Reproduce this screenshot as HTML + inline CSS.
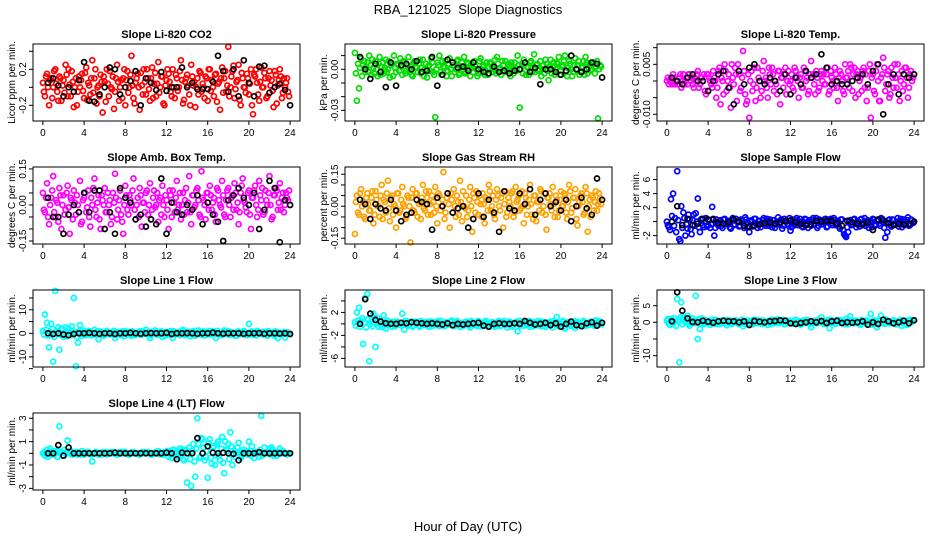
<!DOCTYPE html>
<html><head><meta charset="utf-8"><style>
body{margin:0;background:#fff;}
svg{display:block;font-family:"Liberation Sans",sans-serif;}
</style></head><body>
<svg id="chart" width="936" height="540" viewBox="0 0 936 540">
<rect width="936" height="540" fill="#fff"/>
<text x="468" y="14" text-anchor="middle" font-size="13" xml:space="preserve">RBA_121025  Slope Diagnostics</text>
<text x="468" y="531" text-anchor="middle" font-size="13">Hour of Day (UTC)</text>
<g id="panels"></g>
</svg>
<script>
const xTicks=[0,4,8,12,16,20,24];
const c1=[0.05,-0.1,0.15,-0.2,0.1,0.0,0.2,-0.05,0.12,-0.15,0.08,0.25,-0.1,0.03,0.18,-0.22,0.1,-0.05,0.0,0.15,-0.12,0.22,0.05,-0.08,0.3,0.1,-0.18,0.02,0.14,-0.28,0.06,0.2,-0.1,0.0,0.12,-0.05,0.25,-0.15,0.08,0.1,-0.2,0.18,0.0,0.35,-0.12,0.05,0.15,-0.25,0.02,0.2,-0.08,0.1,-0.15,0.22,0.04,-0.1,0.28,0.0,0.12,-0.2,0.08,0.15,-0.05,0.2,-0.12,0.1,0.0,0.3,-0.18,0.06,0.14,-0.08,0.25,0.02,-0.22,0.1,0.18,-0.05,0.0,0.12,-0.15,0.2,0.08,-0.1,0.15,0.04,-0.25,0.22,0.1,-0.05,0.45,0.0,0.18,-0.12,0.06,0.25,-0.2,0.1,0.0,0.15,-0.08,0.2,-0.3,0.12,0.05,-0.15,0.22,0.0,0.1,-0.1,0.18,0.08,-0.22,0.14,0.02,0.2,-0.12,0.1,0.05,-0.05];
const d1=[-0.05,0.12,0.0,0.08,-0.12,0.18,0.04,-0.15,0.1,0.02,-0.06,0.14,0.2,-0.1,0.06,0.0,-0.2,0.12,0.08,-0.04,0.16,-0.14,0.02,0.1,-0.06,0.2,0.0,-0.1,0.06,0.12,-0.16,0.04,0.18,-0.02,-0.24,0.1,0.06,0.0,-0.12,0.2,0.08,-0.06,0.14,0.02,-0.18,0.1,0.0,0.16,-0.08,0.06,0.2,-0.02,0.1,-0.12,0.16,0.04,-0.06,0.12,-0.18,0.02,0.2,0.06,-0.1,0.0,0.14,-0.04,0.18,0.08,-0.14,0.1,0.02,-0.2,0.12,0.06,0.0,-0.08,0.16,0.04,-0.12,0.1,0.2,-0.04,0.0,0.14,-0.16,0.06,0.1,-0.06,0.18,0.02,-0.1,0.12,0.24,-0.02,0.08,-0.14,0.16,0.0,-0.06,0.1,0.04,-0.2,0.14,0.2,-0.08,0.06,0.0,0.16,-0.12,0.1,0.02,-0.04,0.18,-0.18,0.08,0.12,-0.06,0.0,0.1,-0.1];
const b1=[0.05,0.1,0.02,-0.1,0.0,-0.05,0.08,0.28,-0.15,-0.16,-0.08,0.0,0.22,0.2,-0.08,0.0,0.07,0.18,-0.2,0.1,0.05,-0.03,0.17,-0.04,0.0,0.0,0.22,0.0,0.05,-0.02,-0.02,-0.02,0.06,0.35,0.18,-0.05,0.2,-0.1,0.3,0.05,-0.1,0.23,0.24,-0.06,0.0,0.04,-0.03,-0.2];
const c2=[0.012,-0.023,-0.014,0.008,0.003,-0.002,0.005,0.010,-0.004,0.001,0.006,-0.005,0.009,0.002,-0.003,0.007,0.000,-0.006,0.004,0.010,-0.002,0.003,0.008,-0.004,0.005,-0.001,0.009,0.002,-0.005,0.006,0.001,0.004,-0.003,0.007,0.000,-0.006,0.003,0.008,-0.002,-0.035,0.005,0.010,-0.004,0.002,0.006,-0.001,0.008,-0.005,0.003,0.000,0.007,-0.003,0.005,0.009,-0.002,0.004,-0.005,0.001,0.006,0.000,-0.003,0.008,0.002,-0.004,0.005,0.001,0.004,-0.002,0.007,0.009,0.000,-0.004,0.003,0.006,-0.001,0.002,0.005,-0.003,0.001,0.010,-0.028,0.004,0.007,-0.004,0.001,0.005,-0.002,0.011,0.003,-0.001,0.006,0.000,-0.003,0.004,-0.008,0.007,0.002,-0.004,0.005,0.009,-0.001,0.003,0.010,-0.005,0.006,0.000,-0.002,0.008,0.003,-0.004,0.001,0.006,0.009,-0.003,0.004,0.000,0.005,0.002,-0.036,0.003];
const d2=[-0.003,0.004,0.001,-0.005,0.006,0.002,-0.002,0.003,0.007,-0.003,0.0,0.004,-0.004,0.005,0.001,-0.002,0.006,0.003,-0.005,0.001,0.004,-0.001,0.002,0.006,-0.003,0.003,0.0,-0.004,0.005,0.002,-0.002,0.007,0.001,-0.005,0.004,0.002,-0.001,0.005,-0.004,0.0,0.003,-0.002,0.006,0.001,-0.005,0.004,0.0,0.003,-0.002,0.006,-0.004,0.002,0.0,-0.003,0.005,0.001,0.004,-0.002,0.002,-0.005,0.006,0.0,0.003,-0.001,-0.004,0.005,0.002,0.0,-0.003,0.004,0.001,0.006,-0.002,0.0,0.004,-0.005,0.002,0.005,-0.001,0.003,0.0,-0.003,0.005,0.002,-0.004,0.006,0.001,-0.002,0.004,0.0,-0.005,0.003,0.007,-0.001,0.002,-0.003,0.005,0.0,0.004,-0.004,0.002,0.006,-0.002,0.001,0.004,-0.005,0.003,0.0,0.006,-0.002,0.002,-0.004,0.005,0.001,-0.001,0.004,-0.003,0.006,0.0,0.002];
const b2=[0.009,0.0,-0.007,0.004,-0.002,-0.013,0.005,-0.012,0.003,0.004,0.0,0.006,-0.002,-0.001,0.009,-0.012,-0.004,0.007,0.005,0.001,0.002,-0.001,0.005,0.0,-0.002,-0.003,0.002,-0.002,-0.001,-0.003,-0.001,0.0,0.005,-0.002,0.001,-0.011,0.0,0.0,-0.002,-0.004,-0.001,0.010,0.0,-0.002,0.0,0.005,0.004,-0.006];
const c3=[0.0,-0.001,0.001,0.002,-0.001,0.0,0.001,-0.002,0.002,0.0,-0.001,0.002,0.001,-0.002,0.0,0.003,-0.001,0.001,0.002,-0.004,0.002,0.0,-0.002,0.001,-0.005,0.003,-0.007,0.0,0.005,-0.003,0.002,-0.008,0.001,0.004,-0.006,0.002,-0.002,0.009,-0.004,-0.006,-0.011,0.003,-0.001,-0.006,0.004,0.0,-0.003,0.006,0.001,-0.005,0.002,0.004,-0.003,-0.001,0.003,-0.007,0.001,0.002,-0.004,0.003,0.0,-0.002,0.004,0.001,-0.005,0.002,-0.002,0.003,0.001,-0.003,0.006,0.002,-0.004,0.001,-0.002,0.003,0.002,-0.001,0.004,-0.003,0.001,-0.002,0.002,-0.006,0.003,0.0,-0.004,0.001,0.003,0.005,-0.003,0.004,0.002,-0.004,0.001,0.003,-0.002,-0.006,0.003,-0.011,0.002,-0.004,0.005,-0.006,0.001,0.007,-0.003,0.002,-0.005,0.004,-0.002,0.001,0.005,-0.006,0.003,-0.001,0.004,-0.005,0.002,0.0];
const d3=[0.001,0.0,-0.001,0.001,0.0,-0.001,0.002,0.0,-0.001,0.001,0.002,0.0,-0.001,0.001,0.002,-0.002,0.001,0.0,-0.003,0.002,0.001,-0.001,0.003,0.0,-0.002,0.004,0.001,-0.004,0.003,0.0,-0.002,0.005,-0.001,0.002,0.005,-0.003,0.001,0.003,-0.007,0.002,0.0,-0.003,0.004,-0.002,0.001,-0.005,0.003,0.0,-0.002,0.004,-0.001,0.002,0.0,-0.004,0.003,0.001,-0.002,0.004,0.0,-0.001,0.002,-0.003,0.003,0.0,0.001,-0.002,0.004,0.0,-0.004,0.002,0.001,-0.001,0.003,-0.003,0.002,0.0,-0.001,0.002,-0.004,0.003,0.0,0.004,-0.002,0.001,0.002,-0.003,0.005,0.001,-0.002,0.004,0.002,-0.005,0.003,0.0,-0.003,0.004,0.002,-0.002,0.005,0.001,-0.003,0.003,0.0,-0.006,0.002,0.004,-0.001,0.003,-0.004,0.001,0.005,-0.002,0.002,0.0,-0.003,0.004,0.001,-0.002,0.003,0.001];
const b3=[0.001,0.0,-0.001,0.001,0.002,0.0,0.0,-0.003,0.0,0.002,0.003,-0.002,-0.007,0.003,-0.001,0.004,0.005,0.0,-0.001,0.001,0.0,-0.003,0.002,-0.004,0.001,-0.001,0.003,0.001,0.002,0.008,0.004,-0.001,0.0,-0.001,-0.001,0.0,0.001,0.002,-0.001,0.003,0.005,-0.010,-0.001,0.002,-0.004,0.002,0.001,0.002];
const c4=[0.05,-0.03,0.09,-0.08,0.03,0.12,-0.05,0.01,0.07,-0.1,0.04,-0.02,0.08,-0.12,0.02,0.06,-0.04,0.0,0.1,-0.07,0.03,-0.03,0.06,-0.09,0.0,0.11,-0.05,0.04,-0.1,0.02,0.07,-0.03,0.0,-0.08,0.05,0.13,-0.06,0.02,-0.04,-0.12,0.08,-0.02,0.04,0.0,0.11,-0.06,0.03,0.07,-0.09,0.01,0.05,-0.04,0.09,-0.02,0.06,0.0,-0.07,0.03,0.08,-0.05,0.02,-0.1,0.04,0.06,-0.03,0.1,0.0,-0.06,0.05,0.02,-0.03,0.12,-0.08,0.04,0.0,0.07,-0.04,0.14,0.02,-0.06,0.05,0.08,-0.02,0.03,-0.07,0.06,0.0,0.1,-0.04,0.02,0.07,-0.05,0.04,0.09,-0.02,-0.08,0.05,0.11,0.01,-0.03,0.06,-0.1,0.03,0.08,-0.05,0.1,0.02,-0.04,0.06,0.0,0.12,-0.06,0.04,0.07,-0.02,0.09,0.03,-0.03,0.05,0.02];
const d4=[-0.02,0.03,-0.05,0.0,0.06,-0.03,0.02,-0.07,0.04,0.0,-0.04,0.05,-0.01,0.03,-0.06,0.01,0.04,-0.03,-0.08,0.02,0.05,-0.01,-0.05,0.03,0.07,-0.02,0.01,-0.06,0.04,0.0,-0.03,0.05,0.02,-0.05,0.01,0.03,-0.02,0.06,-0.07,0.0,0.04,-0.04,0.02,0.06,-0.02,0.0,-0.05,0.04,0.01,-0.03,0.06,0.0,-0.06,0.03,-0.01,0.05,0.02,-0.04,0.0,0.04,-0.02,0.06,-0.05,0.01,0.03,-0.02,0.05,0.0,-0.04,0.07,0.01,-0.03,0.04,-0.01,0.06,0.02,-0.05,0.03,0.0,0.05,-0.02,0.04,0.01,-0.04,0.07,0.02,-0.01,0.04,-0.05,0.06,0.0,0.03,-0.02,0.05,0.01,-0.03,0.08,0.02,-0.01,0.05,-0.04,0.03,0.06,0.0,-0.02,0.04,0.07,-0.03,0.02,0.05,0.0,-0.05,0.04,0.06,0.01,-0.02,0.05,0.0,0.03,0.06];
const b4=[0.03,-0.05,-0.05,-0.12,-0.04,0.0,-0.03,0.05,-0.03,0.06,0.06,-0.1,-0.03,-0.12,0.07,0.03,0.01,-0.06,-0.04,-0.09,-0.06,-0.08,0.11,-0.12,0.01,-0.03,-0.04,0.0,-0.02,0.04,-0.08,0.01,-0.04,-0.07,-0.15,0.02,0.04,0.07,0.03,0.0,0.05,-0.1,-0.02,0.1,0.07,-0.155,0.02,0.0];
const c5=[-0.13,0.05,-0.04,0.08,0.02,-0.06,0.06,-0.02,0.04,-0.08,0.07,0.0,-0.05,0.1,0.03,-0.03,0.12,-0.07,0.05,0.01,-0.1,0.06,-0.02,0.09,0.0,-0.05,0.04,-0.17,0.08,-0.03,0.06,0.01,-0.06,0.1,-0.02,0.04,0.07,-0.04,0.02,0.09,-0.08,0.05,0.0,0.16,-0.03,0.06,-0.1,0.03,0.08,-0.05,0.02,0.12,-0.07,0.0,0.05,-0.02,0.09,-0.12,0.04,0.07,-0.04,0.01,0.06,-0.08,0.03,0.1,-0.02,0.05,-0.06,0.08,0.0,0.04,-0.1,0.07,-0.03,0.02,0.06,-0.05,0.09,0.03,-0.02,0.07,-0.08,0.04,0.0,0.1,-0.04,0.05,-0.07,0.02,0.08,-0.03,0.06,-0.11,0.04,0.01,0.09,-0.05,0.03,-0.02,0.07,0.0,0.05,-0.06,0.1,-0.03,0.04,0.08,-0.09,0.02,0.06,-0.04,0.09,-0.12,0.03,0.05,-0.02,0.07,0.01,0.04];
const d5=[0.02,-0.03,0.06,0.0,-0.05,0.04,0.01,-0.02,0.07,-0.04,0.03,0.0,0.05,-0.06,0.02,0.06,-0.01,0.04,-0.04,0.0,0.06,-0.03,0.03,0.01,-0.06,0.05,0.0,0.04,-0.02,0.06,-0.05,0.02,0.04,-0.01,0.07,-0.04,0.01,0.05,-0.03,0.0,0.06,-0.02,0.03,-0.06,0.04,0.01,0.06,-0.03,0.0,0.05,-0.04,0.02,0.07,-0.01,-0.05,0.03,0.0,0.06,-0.03,0.02,0.05,-0.05,0.01,0.04,-0.02,0.07,0.0,-0.04,0.03,0.05,-0.02,0.06,0.01,-0.05,0.04,0.0,0.07,-0.03,0.02,0.05,-0.01,0.0,0.06,-0.04,0.03,0.01,-0.06,0.05,0.02,-0.02,0.07,0.0,-0.04,0.04,0.06,-0.02,0.01,0.05,-0.05,0.03,0.0,0.06,-0.03,0.02,0.07,-0.01,0.04,-0.06,0.0,0.05,0.02,-0.03,0.06,0.0,-0.05,0.04,0.02,-0.02,0.06,0.01];
const b5=[0.03,0.01,-0.06,0.01,-0.01,-0.02,0.03,-0.02,-0.07,-0.04,-0.03,0.03,0.02,0.01,-0.11,0.04,0.0,0.06,-0.03,-0.01,0.0,-0.1,-0.06,0.06,-0.05,0.03,-0.03,-0.12,0.07,-0.01,-0.02,0.06,0.01,0.08,-0.04,0.03,0.06,0.0,0.02,-0.02,0.03,-0.07,0.0,0.04,-0.01,-0.04,0.13,0.03];
const c6=[0.0,-0.8,3.2,4.0,0.5,7.2,-2.5,2.2,1.3,-2.0,-1.0,0.3,-1.8,1.0,1.2,3.3,-1.5,0.4,-0.8,0.5,-0.5,-0.9,2.1,-2.0,0.3,-0.6,0.2,-0.9,0.4,-0.3,0.1,-1.0,0.5,-0.4,0.0,-0.7,0.3,-0.2,0.6,-0.8,-1.5,0.2,-0.5,0.4,-0.9,0.1,-0.3,0.5,-0.6,0.0,0.3,-0.8,0.2,-0.4,0.6,-0.2,-1.0,0.4,0.0,-0.6,-1.3,0.3,-0.5,0.5,-0.2,0.0,-0.8,0.4,-0.3,0.2,-0.6,0.5,0.1,-0.9,0.3,-0.4,0.0,0.4,-0.7,0.2,-0.2,0.5,-0.5,0.1,-1.0,0.3,-1.8,-2.2,-1.5,0.2,-0.4,0.4,-0.8,0.0,0.3,-0.5,0.5,-0.2,-0.9,0.1,0.4,-0.6,0.2,-0.3,0.5,-0.1,-2.3,-1.5,0.3,-0.7,0.2,-0.4,0.5,0.0,-0.8,0.3,-0.3,0.6,-0.5,0.2];
const d6=[-0.5,-1.2,0.8,-0.6,-1.5,0.2,-2.8,-0.9,0.5,-0.4,1.0,-1.1,0.2,-0.6,0.0,-0.8,0.3,-0.5,-0.1,-0.7,0.2,-0.4,0.4,-0.9,-0.2,0.1,-0.6,0.3,-0.3,0.0,-0.8,0.2,-0.5,0.4,-0.1,-0.6,0.1,-0.9,0.3,-0.2,0.0,-0.7,0.4,-0.4,0.1,-0.8,0.2,-0.3,0.4,-0.6,-0.1,0.2,-0.9,0.0,-0.4,0.3,-0.6,0.1,-0.3,0.5,-0.8,0.0,0.2,-0.5,0.4,-0.7,-0.1,0.3,-0.9,0.0,0.2,-0.4,0.5,-0.6,0.1,-0.3,0.3,-0.8,0.0,0.4,-0.5,0.2,-0.2,-0.7,0.3,-1.2,-2.0,-0.8,0.1,-0.5,0.3,-0.3,0.0,-0.7,0.4,-0.2,-0.6,0.2,0.0,-0.8,0.3,-0.4,0.1,-0.6,0.4,-0.9,-0.2,0.2,-0.5,0.3,-0.3,0.0,-0.7,0.4,-0.1,-0.5,0.2,-0.6,0.3,-0.2];
const b6=[0.0,2.2,-0.5,0.4,-0.5,-0.3,0.4,0.3,0.3,-0.2,-0.3,-0.1,0.3,0.0,-0.6,-0.7,-0.6,-0.4,-0.2,-0.1,-0.3,-0.1,0.1,0.2,-0.1,-0.4,-0.5,-0.4,0.1,0.0,0.1,0.1,-0.3,-0.6,0.1,-0.1,-0.3,-0.4,-0.1,-1.2,0.3,0.2,-0.2,-0.5,-0.3,-0.4,-0.3,0.0];
const c7=[1.0,8.0,4.5,-6.0,4.0,-12.0,18.0,1.0,-7.0,2.0,-1.5,2.5,-1.0,0.5,3.0,15.0,-14.0,-4.0,3.5,-1.0,0.5,-0.8,1.0,-0.5,0.3,1.5,-0.5,-2.5,0.8,0.0,-0.6,1.0,0.2,-0.4,0.6,-2.0,0.0,0.5,-0.8,0.3,1.0,-0.5,0.2,-1.0,0.6,0.0,-0.3,0.8,-0.6,0.2,1.5,-0.4,-2.0,0.5,0.0,0.9,-0.7,0.3,-1.5,0.4,0.2,-0.6,1.0,-2.0,0.3,0.0,0.7,-0.5,1.5,-0.8,0.2,0.5,-0.3,1.0,-1.0,0.0,0.4,-0.6,0.8,0.2,-0.4,1.0,-0.2,0.5,-2.0,0.0,0.3,-0.7,1.2,-0.3,0.0,0.6,-0.5,0.2,-1.0,0.8,0.0,-0.4,0.5,-0.8,4.0,0.2,-0.6,0.3,1.0,-0.2,0.0,-0.5,0.6,-1.0,0.3,0.0,-0.4,0.8,-2.0,0.2,-0.6,0.5,-0.2,0.0];
const d7=[-0.5,1.5,-1.0,0.5,2.0,-1.5,1.0,2.5,-0.5,1.8,0.0,-1.2,2.0,-0.8,1.0,0.3,-1.5,0.8,-0.3,1.2,-0.6,0.4,1.0,-0.9,0.2,-0.4,0.9,-0.2,0.5,-1.0,0.3,0.7,-0.5,0.0,1.0,-0.6,0.4,-0.2,0.8,-1.2,0.1,0.6,-0.4,0.9,-0.8,0.2,0.5,-0.6,1.0,-0.2,0.0,0.7,-0.9,0.3,1.2,-0.5,0.2,0.8,-0.3,-1.0,0.6,0.2,-0.5,0.9,-0.2,0.4,-0.8,1.0,0.0,-0.4,0.7,-1.2,0.3,0.5,-0.6,1.2,-0.2,0.4,-0.9,0.6,0.0,-0.5,0.8,-0.3,1.0,0.2,-0.8,0.5,-0.2,0.9,-0.6,0.3,0.0,-1.0,0.7,-0.3,0.4,1.0,-0.6,0.2,-0.4,0.8,0.0,-0.9,0.5,-0.2,0.6,0.2,-0.7,0.9,-0.3,0.4,-1.0,0.6,0.0,-0.5,0.3,-1.8,0.5,-0.2];
const b7=[0.0,-0.3,0.0,-0.5,-0.8,-0.3,0.0,0.0,0.2,0.0,-0.2,0.0,0.0,-0.3,0.0,0.0,0.2,0.0,-0.2,0.0,0.1,0.0,0.0,0.2,-0.3,0.0,0.0,0.1,0.0,-0.2,0.0,0.0,0.3,0.0,-0.1,0.0,0.0,0.0,-0.2,0.0,0.0,0.1,-0.2,0.0,0.0,-0.1,0.0,-0.3];
const c8=[0.3,2.0,2.8,0.5,-3.5,4.5,5.2,-6.5,0.5,1.8,-4.0,1.0,0.0,-0.5,1.5,-0.8,0.5,0.2,-0.5,0.4,-0.2,0.3,0.0,1.8,-1.0,0.5,-0.3,0.2,-0.5,0.4,0.0,-0.3,0.5,-0.2,0.3,0.0,-0.5,0.4,0.1,-0.2,0.3,-0.4,0.5,0.0,-0.3,0.2,-0.1,0.6,-0.4,0.0,0.3,-0.5,0.2,0.0,0.4,-0.2,-0.6,0.3,0.1,-0.3,0.5,0.0,-0.4,0.2,0.4,-0.2,0.0,0.3,-0.5,0.1,0.5,-0.3,0.2,0.0,-0.6,0.4,0.1,-0.2,0.3,-1.3,0.5,0.0,-0.3,0.4,0.2,-0.5,0.3,0.0,-0.2,0.5,0.1,-0.4,0.3,0.0,-0.2,0.4,-0.6,0.2,1.2,0.0,-0.3,0.5,-0.8,0.2,0.3,-0.4,0.1,-0.7,0.4,0.0,-0.2,0.5,-0.3,0.2,0.0,0.4,-0.3,0.6,0.0,0.3];
const d8=[-0.3,0.6,-0.5,1.0,0.2,-0.6,0.8,0.0,-0.4,1.2,0.3,-0.5,0.6,0.0,-0.3,0.5,-0.2,0.3,0.0,-0.4,0.4,0.1,-0.3,0.2,0.5,-0.2,0.0,0.4,-0.3,0.1,0.3,-0.5,0.2,0.0,-0.2,0.4,0.1,-0.4,0.3,0.0,0.5,-0.2,0.1,-0.4,0.3,0.0,0.4,-0.3,0.2,0.5,-0.1,0.0,-0.4,0.3,0.1,-0.3,0.5,0.0,-0.2,0.4,-0.4,0.2,0.0,0.5,-0.3,0.1,0.3,-0.2,0.0,0.4,-0.4,0.2,0.5,-0.1,0.0,0.3,-0.5,0.2,0.4,0.0,-0.3,0.3,0.1,-0.2,0.5,0.0,-0.4,0.3,0.1,-0.3,0.4,0.0,-0.5,0.2,0.3,-0.1,0.5,0.0,-0.3,0.2,0.4,-0.4,0.1,0.3,-0.2,0.0,0.5,-0.3,0.2,0.0,-0.4,0.3,0.1,-0.2,0.4,0.0,-0.3,0.2,0.5,-0.1];
const b8=[0.0,4.3,1.8,0.7,0.4,0.1,0.0,0.0,0.2,0.1,0.3,0.2,0.1,0.0,0.1,0.0,-0.1,0.1,-0.2,0.0,-0.1,0.0,0.1,0.2,-0.3,-0.5,0.0,0.1,0.0,0.0,0.1,0.0,0.5,0.2,-0.1,0.0,0.2,-0.2,0.1,-0.5,0.0,0.4,-0.2,-0.4,0.1,0.3,-0.3,0.2];
const c9=[0.5,-0.5,1.0,-0.3,0.2,7.0,-12.0,6.0,1.5,0.0,2.0,-1.0,-0.3,0.5,8.0,-5.0,-2.0,1.2,-0.5,0.3,0.0,-0.7,0.8,0.2,-0.5,0.4,0.0,-0.3,0.6,-0.9,0.2,0.5,-0.2,0.0,0.4,-0.6,0.3,-1.2,0.2,0.5,-0.4,0.0,0.7,-0.3,0.2,0.5,-0.5,0.1,0.3,-0.8,0.6,0.0,-0.3,0.4,0.9,-0.2,0.1,-0.6,0.5,0.0,0.3,-0.4,0.6,-0.1,0.2,-0.7,0.4,0.0,0.8,-0.3,-1.5,0.3,0.5,-0.2,0.0,1.5,-0.5,0.2,0.4,-1.8,0.6,0.0,-0.4,0.3,0.7,-0.2,0.1,1.0,-0.6,1.8,0.3,-0.3,0.5,0.0,-0.8,0.4,-0.2,0.6,0.2,2.5,-0.5,0.3,-1.5,0.8,2.0,0.0,-0.4,0.5,-0.2,0.3,0.6,-0.6,0.1,0.4,-1.0,0.2,0.5,-0.3,0.8,0.2];
const d9=[1.0,-0.8,0.5,1.2,-1.0,0.8,1.5,-0.6,0.3,1.0,-0.4,0.6,1.2,-0.3,0.4,0.9,-0.5,0.2,0.7,-0.3,0.5,0.0,-0.4,0.8,0.3,-0.6,0.5,0.1,-0.2,0.7,0.0,-0.5,0.4,0.6,-0.3,0.2,0.8,-0.4,0.0,0.5,0.3,-0.6,0.2,0.7,-0.2,0.0,0.6,-0.4,0.3,0.1,-0.5,0.8,0.2,-0.2,0.4,0.0,0.7,-0.5,0.2,0.5,-0.3,0.1,0.8,-0.4,0.3,0.0,0.6,-0.2,0.4,-0.6,0.1,0.5,-0.3,0.7,0.2,-0.1,0.4,-0.5,0.8,0.0,0.3,-0.4,0.6,0.1,-0.2,0.5,-0.6,0.3,0.8,0.0,-0.3,0.5,0.2,-0.5,0.7,0.1,-0.2,0.4,0.0,-0.7,0.6,0.3,-0.2,0.5,0.0,-0.4,0.8,0.2,-0.3,0.5,0.0,-0.6,0.4,0.7,-0.2,0.3,-0.8,0.5,0.1,0.6];
const b9=[0.3,9.0,3.5,1.2,0.1,0.0,0.5,0.2,-0.1,0.3,0.5,0.3,0.3,0.0,0.3,-0.8,0.4,0.2,0.0,0.3,0.4,0.6,0.5,-0.3,-0.5,-0.2,0.0,0.3,0.0,0.4,-0.2,0.3,0.5,-0.2,0.0,-0.1,0.0,0.3,-0.7,0.0,-0.5,0.8,0.3,-0.3,0.0,0.5,-0.3,0.6];
const c10=[0.0,-0.2,0.3,0.1,-0.1,0.2,0.0,-0.3,2.3,0.1,-0.2,0.0,1.1,0.2,-0.1,0.0,0.1,-0.1,0.0,0.2,-0.1,0.0,0.1,0.0,-0.7,0.0,0.1,-0.1,0.0,0.1,0.0,-0.1,0.0,0.1,0.0,0.0,-0.1,0.1,0.0,0.0,0.1,0.0,-0.1,0.0,0.1,0.0,0.0,-0.1,0.1,0.0,0.0,0.1,0.0,-0.1,0.0,0.0,0.2,-0.1,0.0,0.1,0.0,-0.3,0.2,0.3,-0.2,0.1,0.0,0.4,-0.5,0.2,-2.5,0.5,-2.8,0.8,-2.0,3.0,-0.4,1.3,0.5,-0.3,-2.1,1.2,-0.9,0.6,-0.2,1.0,-0.6,1.4,-1.7,0.3,0.8,1.8,-1.0,0.2,0.0,0.9,-0.4,0.1,0.0,0.2,1.0,-0.2,0.0,0.1,0.0,-0.3,3.2,0.0,0.1,0.0,0.4,0.5,-0.2,0.1,0.0,0.4,0.0,0.1,0.0,0.0];
const d10=[0.1,0.0,-0.3,0.4,0.0,-0.1,0.2,0.1,0.0,-0.2,0.3,0.1,0.0,0.2,-0.1,0.0,0.1,0.0,-0.1,0.0,0.0,0.1,0.0,-0.1,0.0,0.1,0.0,0.0,-0.1,0.0,0.1,0.0,0.0,0.0,0.1,-0.1,0.0,0.0,0.1,0.0,0.0,-0.1,0.0,0.1,0.0,0.0,-0.1,0.0,0.0,0.1,0.0,0.0,-0.1,0.0,0.1,0.0,0.0,0.0,-0.1,0.0,0.2,0.0,-0.4,0.3,0.0,-0.3,0.4,0.2,-0.6,0.3,0.0,-0.5,0.2,-0.7,0.4,0.8,-0.3,1.2,-0.6,0.2,0.9,-0.4,0.5,-1.0,0.8,-0.2,0.4,-0.8,1.0,0.2,-0.5,0.6,0.0,-0.3,0.5,0.0,-0.2,0.3,0.0,-0.1,0.2,0.6,-0.4,0.1,0.0,0.3,-0.2,0.5,0.0,0.1,-0.1,0.3,0.0,-0.2,0.1,0.0,0.2,0.0,-0.1,0.0];
const b10=[0.0,0.0,0.7,-0.2,0.5,0.0,0.0,0.0,0.0,0.0,0.0,0.0,0.0,0.05,0.0,0.0,0.0,0.0,0.0,0.0,0.0,0.0,0.0,0.05,0.0,-0.5,0.05,0.0,0.0,1.3,0.0,0.6,0.05,0.0,0.05,0.0,-0.05,-0.6,0.0,0.0,0.0,0.1,0.0,0.0,0.0,0.0,0.0,0.0];

const NS='http://www.w3.org/2000/svg';
const root=document.getElementById('panels');
function mk(tag,attrs,parent){const e=document.createElementNS(NS,tag);for(const k in attrs)e.setAttribute(k,attrs[k]);parent.appendChild(e);return e;}
const panels=[
 {id:'co2',title:'Slope Li-820 CO2',ylab:'Licor ppm per min.',col:'#ff0000',ylim:[-0.374,0.481],yt:[-0.2,0,0.2,0.4],yl:['-0.2','','0.2',''],c:c1,d:d1,b:b1},
 {id:'pressure',title:'Slope Li-820 Pressure',ylab:'kPa per min.',col:'#00dd00',ylim:[-0.0378,0.0185],yt:[-0.03,-0.02,-0.01,0,0.01],yl:['-0.03','','','0.00',''],c:c2,d:d2,b:b2},
 {id:'temp',title:'Slope Li-820 Temp.',ylab:'degrees C per min.',col:'#ff00ff',ylim:[-0.012,0.0111],yt:[-0.01,-0.005,0,0.005,0.01],yl:['-0.010','','','0.005',''],c:c3,d:d3,b:b3},
 {id:'amb-box-temp',title:'Slope Amb. Box Temp.',ylab:'degrees C per min.',col:'#ff00ff',ylim:[-0.1625,0.158],yt:[-0.15,-0.1,-0.05,0,0.05,0.1,0.15],yl:['-0.15','','','0.00','','','0.15'],c:c4,d:d4,b:b4},
 {id:'gas-stream-rh',title:'Slope Gas Stream RH',ylab:'percent per min.',col:'#ffa000',ylim:[-0.177,0.184],yt:[-0.15,-0.1,-0.05,0,0.05,0.1,0.15],yl:['-0.15','','','0.00','','','0.15'],c:c5,d:d5,b:b5},
 {id:'sample-flow',title:'Slope Sample Flow',ylab:'ml/min per min.',col:'#0000ff',ylim:[-3.2,7.8],yt:[-2,0,2,4,6],yl:['-2','','2','4','6'],c:c6,d:d6,b:b6},
 {id:'line1-flow',title:'Slope Line 1 Flow',ylab:'ml/min per min.',col:'#00ffff',ylim:[-14.3,18.4],yt:[-15,-10,-5,0,5,10,15],yl:['','-10','','0','','10',''],c:c7,d:d7,b:b7},
 {id:'line2-flow',title:'Slope Line 2 Flow',ylab:'ml/min per min.',col:'#00ffff',ylim:[-7.5,5.9],yt:[-6,-4,-2,0,2,4],yl:['-6','','-2','','2',''],c:c8,d:d8,b:b8},
 {id:'line3-flow',title:'Slope Line 3 Flow',ylab:'ml/min per min.',col:'#00ffff',ylim:[-13.4,9.7],yt:[-10,-5,0,5],yl:['-10','','0','5'],c:c9,d:d9,b:b9},
 {id:'line4-flow',title:'Slope Line 4 (LT) Flow',ylab:'ml/min per min.',col:'#00ffff',ylim:[-3.14,3.45],yt:[-3,-2,-1,0,1,2,3],yl:['-3','','-1','','1','','3'],c:c10,d:d10,b:b10}
];
panels.forEach((p,k)=>{
 const col=k%3,row=Math.floor(k/3);
 const L=33+312*col,W=267,T=44+123*row,H=77,B=T+H;
 const xs=h=>L+(h+0.96)/25.92*W;
 const ys=v=>B-(v-p.ylim[0])/(p.ylim[1]-p.ylim[0])*H;
 const g=mk('g',{},root);
 
 
 const t=mk('text',{x:L+W/2,y:T-6,'text-anchor':'middle','font-size':'11','font-weight':'bold'},g);
 t.textContent=p.title;
 
 
 const cg=mk('g',{fill:'none',stroke:p.col,'stroke-width':'1.7'},g);
 
 
 [[p.c,0],[p.d,0.1]].forEach(([arr,off])=>{
 arr.forEach((v,i)=>{const h=i*24/arr.length+off;const y=ys(v);if(y<T-2||y>B+2)return;
  const e=mk('circle',{cx:xs(h).toFixed(1),cy:y.toFixed(1),r:'2.5'},cg);
  
  });});
 const bg=mk('g',{fill:'none',stroke:'#000','stroke-width':'1.7'},g);
 
 
 p.b.forEach((v,i)=>{const h=0.5+i*0.5;const y=ys(v);if(y<T-2||y>B+2)return;
  const e=mk('circle',{cx:xs(h).toFixed(1),cy:y.toFixed(1),r:'2.5'},bg);
  
  });
 const box=mk('rect',{x:L,y:T,width:W,height:H,fill:'none',stroke:'#000','stroke-width':'1'},g);
 
 
 const ax=mk('g',{stroke:'#000','stroke-width':'1'},g);
 
 
 xTicks.forEach(h=>{const x=xs(h);mk('line',{x1:x,x2:x,y1:B,y2:B+4},ax);
  const tx=mk('text',{x:x,y:B+15,'text-anchor':'middle','font-size':'10',stroke:'none'},g);
  tx.textContent=h;
  
  });
 p.yt.forEach((v,i)=>{const y=ys(v);mk('line',{x1:L-4,x2:L,y1:y,y2:y},ax);
  if(p.yl[i]){const ty=mk('text',{x:0,y:0,'text-anchor':'middle','font-size':'10',transform:`translate(${L-7},${y}) rotate(-90)`},g);
  ty.textContent=p.yl[i];
  
  }});
 const yl=mk('text',{x:0,y:0,'text-anchor':'middle','font-size':'10',transform:`translate(${L-18},${T+H/2}) rotate(-90)`},g);
 yl.textContent=p.ylab;
 
 
});
</script>
</body></html>
